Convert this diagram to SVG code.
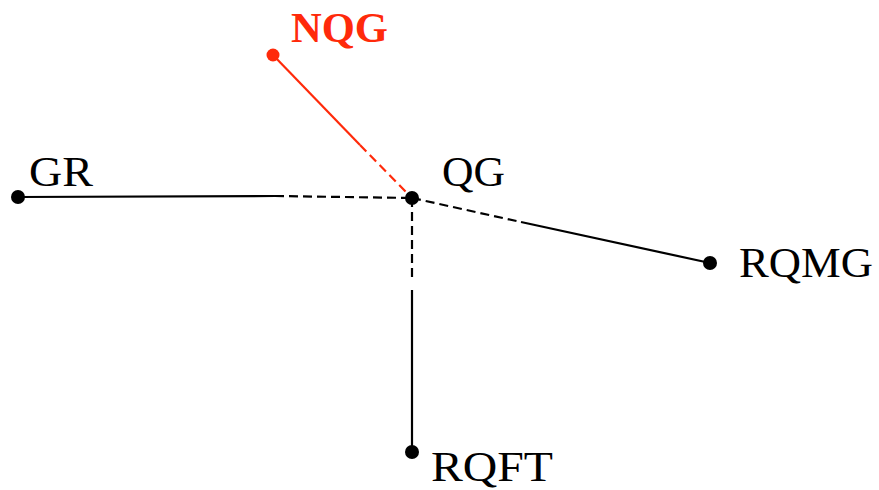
<svg xmlns="http://www.w3.org/2000/svg" width="879" height="490" viewBox="0 0 879 490">
<style>
.l{stroke:#000;stroke-width:2.2;fill:none}
.d{stroke-dasharray:9 5}
.r{stroke:#ff2a0a}
.t{font-family:"Liberation Serif","DejaVu Serif",serif;font-size:43px;fill:#000}
.dot{fill:#000}
</style>
<rect width="879" height="490" fill="#fff"/>
<g id="connectors">
<line class="l" x1="18" y1="197" x2="275" y2="196"/>
<line class="l d" x1="275" y1="196" x2="412" y2="198"/>
<line class="l r" x1="273" y1="55" x2="360" y2="145"/>
<line class="l r d" x1="360" y1="145" x2="412" y2="198"/>
<line class="l d" x1="412" y1="198" x2="521" y2="222"/>
<line class="l" x1="521" y1="222" x2="710" y2="263"/>
<line class="l d" x1="412" y1="198" x2="412" y2="282"/>
<line class="l" x1="412" y1="290" x2="412" y2="452"/>
</g>
<g id="NQG"><circle cx="273" cy="55" r="6.5" fill="#ff2a0a"/><text x="291" y="42" class="t" style="font-weight:bold;fill:#ff2a0a" textLength="97" lengthAdjust="spacingAndGlyphs">NQG</text></g>
<g id="GR"><circle class="dot" cx="18" cy="197" r="7"/><text x="29" y="186" class="t" textLength="64" lengthAdjust="spacingAndGlyphs">GR</text></g>
<g id="QG"><circle class="dot" cx="412" cy="198" r="7"/><text x="442" y="186" class="t" textLength="63" lengthAdjust="spacingAndGlyphs">QG</text></g>
<g id="RQMG"><circle class="dot" cx="710" cy="263" r="7"/><text x="739" y="277" class="t" textLength="134" lengthAdjust="spacingAndGlyphs">RQMG</text></g>
<g id="RQFT"><circle class="dot" cx="412" cy="452" r="7"/><text x="431" y="481" class="t" textLength="122" lengthAdjust="spacingAndGlyphs">RQFT</text></g>
</svg>
